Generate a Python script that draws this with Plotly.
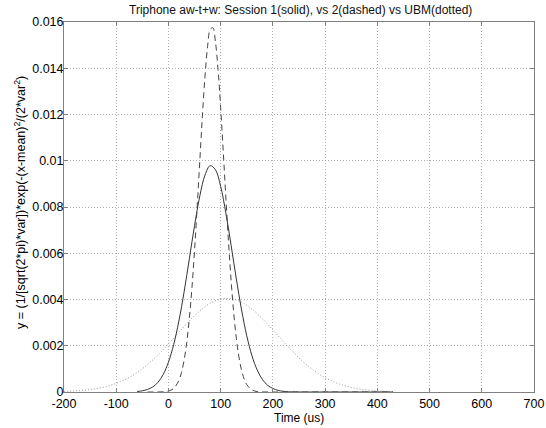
import plotly.graph_objects as go

# ---- data ----
solid_x = [-60, -50, -40, -30, -20, -10, 0, 10, 20, 30, 40, 50, 60, 70, 80, 90, 100, 110, 120,
           130, 140, 150, 160, 170, 180, 190, 200, 210, 220, 230, 260, 300, 350, 400, 430]
solid_y = [0.000022, 0.000051, 0.00011, 0.00022, 0.00042, 0.00076, 0.00129, 0.00205, 0.00307,
           0.00433, 0.00576, 0.00720, 0.00847, 0.00938, 0.00979, 0.00961, 0.00889, 0.00773,
           0.00634, 0.00489, 0.00355, 0.00243, 0.00156, 0.00095, 0.00054, 0.00029, 0.00015,
           0.00007, 0.00003, 0.00001, 0.0, 0.0, 0.0, 0.0, 0.0]

dashed_x = [-40, -10, 0, 10, 20, 25, 30, 35, 40, 45, 50, 55, 60, 65, 70, 75, 80, 85, 90, 95,
            100, 105, 110, 115, 120, 125, 130, 135, 140, 145, 150, 160, 170, 200, 300, 430]
dashed_y = [0.0, 0.000009, 0.00004, 0.000155, 0.00050, 0.00085, 0.00138, 0.00214, 0.00318,
            0.00451, 0.00614, 0.00800, 0.00998, 0.01193, 0.01365, 0.01495, 0.01568, 0.01575,
            0.01514, 0.01394, 0.01229, 0.01038, 0.00839, 0.00650, 0.00482, 0.00342, 0.00232,
            0.00151, 0.00094, 0.00056, 0.00032, 0.00009, 0.00002, 0.0, 0.0, 0.0]

dotted_x = [-200, -180, -160, -140, -120, -100, -80, -60, -40, -20, 0, 20, 40, 60, 80, 100,
            120, 140, 160, 180, 200, 220, 240, 260, 280, 300, 320, 340, 360, 380, 400, 420, 430]
dotted_y = [0.000023, 0.000044, 0.000079, 0.000139, 0.000232, 0.000371, 0.000571, 0.000841,
            0.001186, 0.001604, 0.002079, 0.002582, 0.003075, 0.003507, 0.003836, 0.004019,
            0.004036, 0.003885, 0.003583, 0.003168, 0.002684, 0.002180, 0.001695, 0.001265,
            0.000904, 0.000619, 0.000406, 0.000256, 0.000154, 0.000089, 0.000049, 0.000026,
            0.00002]

x_ticks = [-200, -100, 0, 100, 200, 300, 400, 500, 600, 700]
x_tick_labels = ["-200", "-100", "0", "100", "200", "300", "400", "500", "600", "700"]
y_ticks = [0, 0.002, 0.004, 0.006, 0.008, 0.01, 0.012, 0.014, 0.016]
y_tick_labels = ["0", "0.002", "0.004", "0.006", "0.008", "0.01", "0.012", "0.014", "0.016"]

title = "Triphone aw-t+w: Session 1(solid), vs 2(dashed) vs UBM(dotted)"
x_label = "Time (us)"
y_label = "y = (1/[sqrt(2*pi)*var])*exp(-(x-mean)<sup>2</sup>/(2*var<sup>2</sup>)"

FONT = "Liberation Sans, Arial, sans-serif"
W, H = 546, 428
L, R, T, B = 64, 12, 22, 36
PW, PH = W - L - R, H - T - B

fig = go.Figure()
fig.add_trace(go.Scatter(x=dotted_x, y=dotted_y, mode="lines",
                         line=dict(color="#9a9a9a", width=1, dash="1px,2px", shape="spline"),
                         showlegend=False, hoverinfo="skip"))
fig.add_trace(go.Scatter(x=solid_x, y=solid_y, mode="lines",
                         line=dict(color="#333333", width=1, shape="spline"),
                         showlegend=False, hoverinfo="skip"))
fig.add_trace(go.Scatter(x=dashed_x, y=dashed_y, mode="lines",
                         line=dict(color="#444444", width=1, dash="6px,4px", shape="spline"),
                         showlegend=False, hoverinfo="skip"))

axis_common = dict(
    showline=True, linecolor="#808080", linewidth=1, mirror="ticks",
    showgrid=True, gridcolor="#b0b0b0", griddash="1px,2px", gridwidth=1,
    ticks="inside", ticklen=4, tickcolor="#808080",
    zeroline=False, automargin=False,
    tickfont=dict(family=FONT, size=12.5, color="#000"),
)

fig.update_layout(
    width=W, height=H,
    margin=dict(l=L, r=R, t=T, b=B, autoexpand=False),
    paper_bgcolor="white", plot_bgcolor="white",
    font=dict(family=FONT, size=12, color="#000"),
    xaxis=dict(range=[-200, 700], tickvals=x_ticks, ticktext=x_tick_labels, **axis_common),
    yaxis=dict(range=[0, 0.016], tickvals=y_ticks, ticktext=y_tick_labels,
               ticklabelstandoff=-3, **axis_common),
    annotations=[
        dict(text=title, xref="paper", yref="paper", x=(300 - L) / PW, y=1,
             yshift=12, xanchor="center", yanchor="middle", showarrow=False,
             font=dict(family=FONT, size=12, color="#111")),
        dict(text=x_label, xref="paper", yref="paper", x=(299 - L) / PW, y=0,
             yshift=-26, xanchor="center", yanchor="middle", showarrow=False,
             font=dict(family=FONT, size=12, color="#000")),
        dict(text=y_label, xref="paper", yref="paper", x=0, xshift=-(L - 20),
             y=1 - (203 - T) / PH, xanchor="center", yanchor="middle",
             textangle=-90, showarrow=False,
             font=dict(family=FONT, size=12.5, color="#000")),
    ],
)

fig.write_html("out.html", post_script="document.body.style.margin='0';",
               config={"displayModeBar": False})
